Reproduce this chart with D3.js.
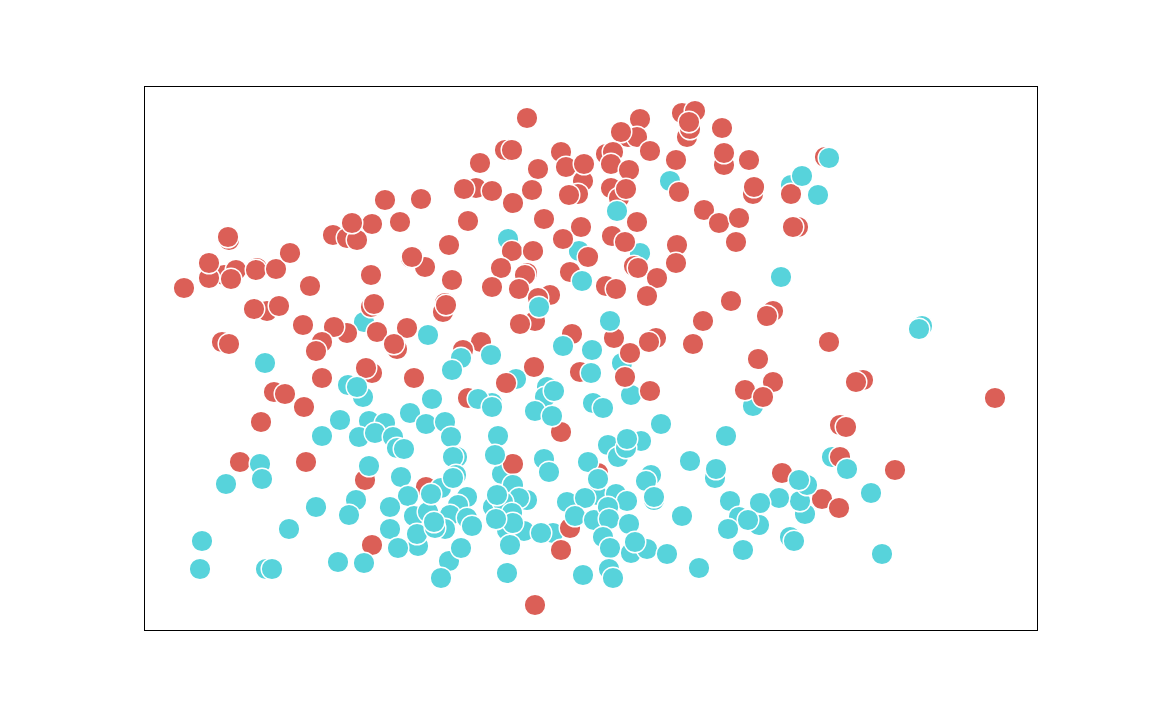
<!DOCTYPE html>
<html>
<head>
<meta charset="utf-8">
<title></title>
<style>
html, body { margin: 0; padding: 0; background: #fff; }
svg { display: block; }
circle { stroke: #fff; stroke-width: 1.4px; }
.frame { fill: none; stroke: #000; stroke-width: 1px; }
</style>
</head>
<body>
<script src="https://cdn.jsdelivr.net/npm/d3@7"></script>
<script>

var categories = ["red", "cyan"];
var colors = ["#db5f57", "#57d3db"];

// cyan points that sit underneath the red ones
var lowX = [364,496,435,478,526,647,609,688,372,409,358,220,487,661,656];
var lowY = [391,377,379,267,449,445,224,173,251,97,156,308,235,116,129];

var redX = [85,84,80,92,65,65,87,113,112,132,40,146,166,227,267,281,268,241,277,256,228,189,203,213,208,
  123,110,135,227,230,159,203,190,233,263,253,250,178,172,78,85,228,222,305,308,301,299,302,
  383,361,368,336,417,422,439,440,394,388,332,320,348,369,434,425,324,400,496,484,493,477,506,
  538,551,543,546,545,578,532,580,580,462,469,467,485,467,475,482,535,560,575,595,592,493,437,
  419,468,481,490,494,533,532,513,503,444,426,462,472,368,389,357,383,381,348,375,406,394,391,376,
  587,559,549,512,505,486,470,428,337,319,390,
  178,270,130,141,160,117,96,162,221,282,228,324,362,417,369,417,426,391,436,481,506,454,
  609,610,605,647,654,649,629,623,685,614,601,629,619,719,712,851,696,702,696,751,638,678,695,681];
var redY = [390,393,355,360,352,367,351,362,360,361,342,377,344,355,372,363,373,430,431,408,406,395,392,390,407,
  319,321,324,323,326,305,297,303,298,302,281,286,288,279,288,286,257,262,385,350,327,318,325,
  512,480,480,467,478,463,449,466,461,440,442,441,439,427,436,435,409,411,511,493,493,498,479,
  517,519,493,501,508,502,470,465,477,476,478,466,460,442,432,441,438,420,407,412,388,408,403,
  391,394,388,364,362,385,367,352,334,373,358,344,341,379,379,362,357,355,343,341,335,332,309,306,
  329,309,286,292,288,277,292,296,288,280,263,
  252,252,238,236,223,208,168,168,150,143,85,232,247,198,166,80,102,25,258,253,239,157,
  436,443,470,436,403,403,319,314,288,271,240,248,233,250,248,232,205,203,173,160,157,131,122,473];

// cyan points drawn over the red ones
var highX = [121,284,204,219,213,288,266,282,301,196,225,241,178,215,231,249,253,260,307,116,118,82,225,257,297,
  264,212,205,172,246,145,270,284,246,274,273,254,58,56,122,128,194,220,305,297,317,
  317,308,347,419,448,403,401,410,391,408,348,334,348,395,473,438,466,354,351,313,309,400,405,312,309,369,
  287,323,314,383,375,349,359,353,368,306,323,328,301,291,290,363,380,369,352,397,366,363,
  447,449,459,517,497,464,474,482,483,444,546,423,453,441,454,431,450,472,483,464,465,507,502,510,510,
  485,538,459,466,487,503,491,523,555,465,469,439,
  685,658,674,637,778,775,582,571,572,703,663,655,635,727,586,616,595,615,604,584,646,650,599,738];
var highY = [267,295,245,233,243,231,217,206,208,210,209,207,194,193,197,193,182,181,193,166,151,146,164,153,142,
  134,130,115,123,123,101,114,118,101,84,96,82,89,61,61,61,68,67,69,52,82,
  272,260,275,284,280,243,233,239,219,214,227,231,223,323,419,349,309,194,175,173,173,171,158,155,152,145,
  136,133,125,130,132,123,128,135,117,115,112,104,101,102,108,100,99,107,111,97,85,57,
  257,227,222,206,189,185,173,182,191,168,169,128,135,132,151,114,110,136,129,123,111,155,149,130,133,
  106,114,93,82,77,81,88,76,62,61,52,55,
  472,454,435,353,304,301,194,152,161,161,145,150,132,137,129,127,113,105,110,101,93,89,80,76];

var width = 1152,
    height = 720;

var x = d3.scaleLinear().domain([0, 893]).range([144, 1037]);
var y = d3.scaleLinear().domain([0, 544]).range([630, 86]);
var color = d3.scaleOrdinal().domain(categories).range(colors);

function rows(xs, ys, group) {
  return xs.map(function(d, i) { return {x: d, y: ys[i], group: group}; });
}

var points = rows(lowX, lowY, "cyan")
  .concat(rows(redX, redY, "red"))
  .concat(rows(highX, highY, "cyan"));

var svg = d3.select("body").append("svg")
    .attr("width", width)
    .attr("height", height);

svg.append("g")
    .selectAll("circle")
    .data(points)
    .enter()
    .append("circle")
    .attr("cx", function(d) { return x(d.x); })
    .attr("cy", function(d) { return y(d.y); })
    .attr("r", 10.8)
    .attr("fill", function(d) { return color(d.group); });

// half pixel offset keeps the frame line sharp
svg.append("rect")
    .attr("class", "frame")
    .attr("x", x.range()[0] + 0.5)
    .attr("y", y.range()[1] + 0.5)
    .attr("width", x.range()[1] - x.range()[0])
    .attr("height", y.range()[0] - y.range()[1]);

</script>
</body>
</html>
